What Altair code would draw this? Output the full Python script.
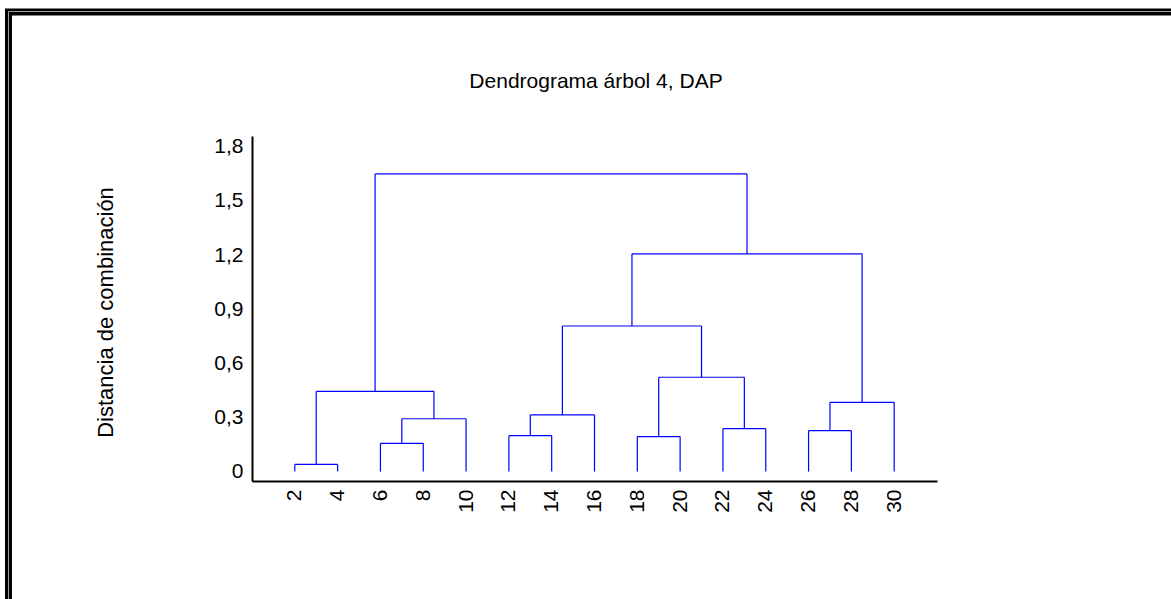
import altair as alt
import pandas as pd

# ---- data ----
leaf_labels = [2, 4, 6, 8, 10, 12, 14, 16, 18, 20, 22, 24, 26, 28, 30]
merge_ids = ["M1", "M2", "M3", "M4", "M5", "M6", "M7", "M8", "M9", "M10", "M11", "M12", "M13", "M14"]
left_child = ["2", "6", "M2", "M1", "12", "M5", "18", "22", "M7", "M6", "26", "M11", "M10", "M4"]
right_child = ["4", "8", "10", "M3", "14", "16", "20", "24", "M8", "M9", "28", "30", "M12", "M13"]
merge_height = [0.04, 0.157, 0.293, 0.445, 0.199, 0.314, 0.194, 0.238, 0.523, 0.807, 0.227, 0.384, 1.207, 1.65]
y_ticks = [0, 0.3, 0.6, 0.9, 1.2, 1.5, 1.8]
chart_title = ["Dendrograma árbol 4, DAP"]

# ---- build segments from the tree ----
pos = {str(l): (float(l), 0.0) for l in leaf_labels}
rows = []
for mid, lc, rc, h in zip(merge_ids, left_child, right_child, merge_height):
    xl, yl = pos[lc]
    xr, yr = pos[rc]
    rows.append({"x": xl, "x2": xl, "y": yl, "y2": h})
    rows.append({"x": xr, "x2": xr, "y": yr, "y2": h})
    rows.append({"x": xl, "x2": xr, "y": h, "y2": h})
    pos[mid] = ((xl + xr) / 2.0, h)
seg = pd.DataFrame(rows)

FONT = "Liberation Sans"
PL, PT, W, H = 252, 136, 685, 345

xscale = alt.Scale(domain=[0, 32], nice=False, zero=False)
yscale = alt.Scale(domain=[-0.052, 1.86], nice=False, zero=False)

lines = alt.Chart(seg).mark_rule(color="#0000ff", strokeWidth=1.2).encode(
    x=alt.X("x:Q", scale=xscale,
            axis=alt.Axis(values=leaf_labels, title=None, labelAngle=270,
                          labelPadding=8, ticks=False, grid=False,
                          domainColor="black", domainWidth=2,
                          labelFont=FONT, labelFontSize=21, labelColor="black",
                          labelOverlap=False)),
    x2="x2:Q",
    y=alt.Y("y:Q", scale=yscale,
            axis=alt.Axis(values=y_ticks, title="Distancia de combinación",
                          labelExpr="datum.value == 0 ? '0' : replace(format(datum.value, '.1f'), '.', ',')",
                          labelPadding=9, ticks=False, grid=False,
                          domainColor="black", domainWidth=2,
                          labelFont=FONT, labelFontSize=21, labelColor="black",
                          titleFont=FONT, titleFontSize=22, titleFontWeight="normal",
                          titleColor="black", titleX=105 - PL, titleY=312 - PT,
                          titleAlign="center", titleBaseline="middle",
                          labelOverlap=False)),
    y2="y2:Q",
)

title_text = alt.Chart(pd.DataFrame({"t": chart_title})).mark_text(
    font=FONT, fontSize=21, color="black", align="center", baseline="alphabetic"
).encode(
    text="t:N",
    x=alt.value(596 - PL),
    y=alt.value(87.5 - PT),
)

# decorative double frame around the picture
frame_outer = alt.Chart(pd.DataFrame({"k": [0]})).mark_rect(
    filled=False, stroke="black", strokeWidth=7
).encode(
    x=alt.value(8.5 - PL), x2=alt.value(1400 - PL),
    y=alt.value(12 - PT), y2=alt.value(800 - PT),
)
frame_inner = alt.Chart(pd.DataFrame({"k": [0]})).mark_rect(
    filled=False, stroke="#a0a0a0", strokeWidth=1
).encode(
    x=alt.value(8.5 - PL), x2=alt.value(1400 - PL),
    y=alt.value(11.5 - PT), y2=alt.value(800 - PT),
)

chart = alt.layer(frame_outer, frame_inner, title_text, lines).properties(
    width=W, height=H,
    autosize=alt.AutoSizeParams(type="none"),
    padding={"left": PL, "top": PT, "right": 1171 - PL - W, "bottom": 599 - PT - H},
    background="white",
).configure_view(stroke=None)

chart.save("out.html", embed_options={"renderer": "svg", "actions": False})
